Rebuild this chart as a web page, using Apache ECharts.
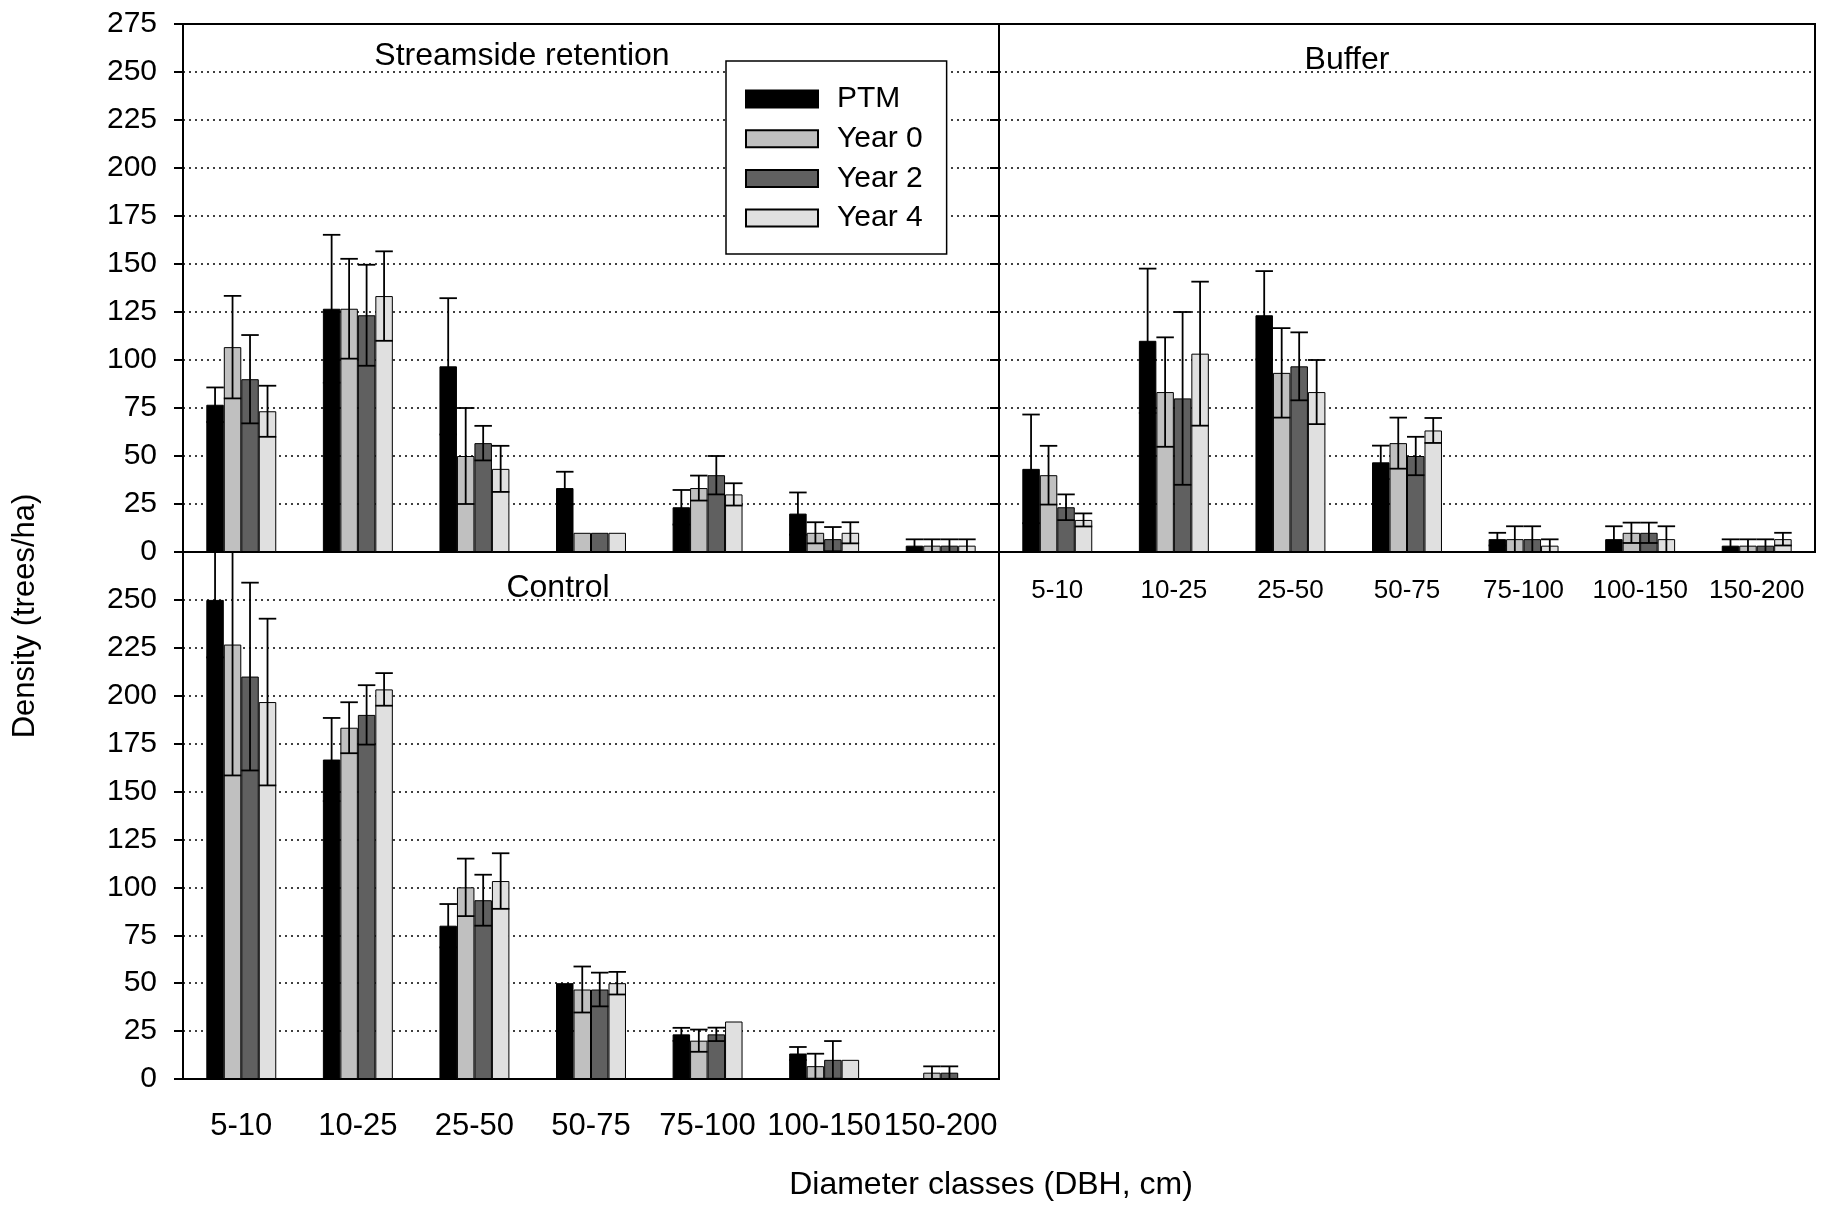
<!DOCTYPE html>
<html lang="en">
  <head>
    <meta charset="UTF-8" />
    <title>Tree density by diameter class</title>
    <script src="https://cdn.jsdelivr.net/npm/echarts@6/dist/echarts.min.js"></script>
    <style>
      html, body { margin: 0; padding: 0; background: #fff; }
    </style>
  </head>
  <body>
    <div id="main" style="width: 1821px; height: 1206px"></div>
    <script type="text/javascript">
      // diameter classes (DBH, cm)
      const categories = ['5-10', '10-25', '25-50', '50-75', '75-100', '100-150', '150-200'];
      const seriesNames = ['PTM', 'Year 0', 'Year 2', 'Year 4'];
      const seriesColors = ['#000000', '#c0c0c0', '#606060', '#e0e0e0'];

      // mean density (trees/ha), rows in seriesNames order
      const streamsideMeans = [
        [76.7, 126.7, 96.7, 33.3, 23.3, 20, 3.3],
        [106.7, 126.7, 50, 10, 33.3, 10, 3.3],
        [90, 123.3, 56.7, 10, 40, 6.7, 3.3],
        [73.3, 133.3, 43.3, 10, 30, 10, 3.3]
      ];
      const bufferMeans = [
        [43.3, 110, 123.3, 46.7, 6.7, 6.7, 3.3],
        [40, 83.3, 93.3, 56.7, 6.7, 10, 3.3],
        [23.3, 80, 96.7, 50, 6.7, 10, 3.3],
        [16.7, 103.3, 83.3, 63.3, 3.3, 6.7, 6.7]
      ];
      const controlMeans = [
        [250, 166.7, 80, 50, 23.3, 13.3, 0],
        [226.7, 183.3, 100, 46.7, 20, 6.7, 3.3],
        [210, 190, 93.3, 46.7, 23.3, 10, 3.3],
        [196.7, 203.3, 103.3, 50, 30, 10, 0]
      ];

      // standard errors, null = no error bar drawn
      const streamsideErr = [
        [9, 38.5, 35.5, 8.5, 9, 11, 3.3],
        [26.7, 26, 25, null, 6.5, 5.5, 3.3],
        [23, 26.3, 9, null, 10, 6.3, 3.3],
        [13.3, 23.3, 12, null, 5.8, 5.5, 3.3]
      ];
      const bufferErr = [
        [28.3, 37.6, 23, 8.7, 3.3, 6.7, 3.3],
        [15.3, 28.5, 23.3, 13.3, 6.7, 5.3, 3.3],
        [6.7, 45, 17.7, 10, 6.7, 5.3, 3.3],
        [3.4, 37.5, 16.7, 6.5, 3.3, 6.7, 3.3]
      ];
      const controlErr = [
        [30, 21.7, 11.3, null, 3.4, 3.4, null],
        [68.3, 13.3, 15, 12, 5.8, 6.5, 3.3],
        [49, 15.5, 13.3, 8.8, 3.5, 9.8, 3.3],
        [43.5, 8.5, 14.5, 5.9, null, null, null]
      ];

      const FONT = '"Liberation Sans", Arial, sans-serif';
      const BAR_FRAC = 0.15;

      const panels = [
        { means: streamsideMeans, errs: streamsideErr },
        { means: bufferMeans, errs: bufferErr },
        { means: controlMeans, errs: controlErr }
      ];

      function errorBar(params, api, k) {
        const ci = api.value(0);
        const mean = api.value(1);
        const se = api.value(2);
        const bw = api.size([1, 0])[0] * BAR_FRAC;
        const x = api.coord([ci, mean])[0] + (k - 1.5) * bw;
        const rect = params.coordSys;
        let top = api.coord([ci, mean + se])[1];
        const bottom = api.coord([ci, Math.max(mean - se, 0)])[1];
        const clipped = top < rect.y;
        if (clipped) top = rect.y;
        const style = { stroke: '#000', lineWidth: 1.8 };
        const children = [
          { type: 'line', shape: { x1: x, y1: top, x2: x, y2: bottom }, style: style }
        ];
        if (!clipped) {
          children.push({ type: 'line', shape: { x1: x - bw / 2, y1: top, x2: x + bw / 2, y2: top }, style: style });
        }
        children.push({ type: 'line', shape: { x1: x - bw / 2, y1: bottom, x2: x + bw / 2, y2: bottom }, style: style });
        return { type: 'group', children: children };
      }

      const series = [];
      panels.forEach((p, gi) => {
        seriesNames.forEach((name, k) => {
          series.push({
            name: name,
            type: 'bar',
            xAxisIndex: gi,
            yAxisIndex: gi,
            data: p.means[k],
            barWidth: '15%',
            barGap: '0%',
            itemStyle: { color: seriesColors[k], borderColor: '#000', borderWidth: 1 }
          });
        });
        seriesNames.forEach((name, k) => {
          series.push({
            type: 'custom',
            xAxisIndex: gi,
            yAxisIndex: gi,
            z: 5,
            data: p.means[k].map((v, i) => [i, v, p.errs[k][i]]).filter(d => d[2] != null),
            renderItem: (params, api) => errorBar(params, api, k)
          });
        });
      });

      const grids = [
        { left: 183, top: 24, width: 816, height: 528 },
        { left: 999, top: 24, width: 816, height: 528 },
        { left: 183, top: 552, width: 816, height: 527 }
      ].map(g => Object.assign(g, { show: true, borderColor: '#000', borderWidth: 2, backgroundColor: 'transparent' }));

      const xAxes = [0, 1, 2].map(gi => ({
        type: 'category',
        gridIndex: gi,
        data: categories,
        axisLine: { lineStyle: { color: '#000', width: 2 } },
        axisTick: { alignWithLabel: true, length: 9, lineStyle: { color: '#000', width: 1.5 } },
        axisLabel: {
          show: gi !== 0,
          interval: 0,
          color: '#000',
          fontFamily: FONT,
          fontSize: gi === 1 ? 26 : 31,
          margin: gi === 1 ? 26 : 32
        },
        splitLine: { show: false }
      }));

      const yAxes = [0, 1, 2].map(gi => ({
        type: 'value',
        gridIndex: gi,
        min: 0,
        max: 275,
        interval: 25,
        axisLine: { show: true, lineStyle: { color: '#000', width: 2 } },
        axisTick: { show: true, length: 9, lineStyle: { color: '#000', width: 2 } },
        axisLabel: {
          show: gi !== 1,
          color: '#000',
          fontFamily: FONT,
          fontSize: 30,
          margin: 26,
          formatter: v => (gi === 2 && v === 275 ? '' : String(v))
        },
        splitLine: { show: true, lineStyle: { color: '#000', width: 1.5, type: [2, 4] } }
      }));

      const myChart = echarts.init(document.getElementById('main'));
      myChart.setOption({
        animation: false,
        backgroundColor: '#fff',
        textStyle: { fontFamily: FONT },
        grid: grids,
        xAxis: xAxes,
        yAxis: yAxes,
        legend: {
          data: seriesNames,
          orient: 'vertical',
          left: 726,
          top: 61,
          icon: 'rect',
          itemWidth: 72,
          itemHeight: 17,
          itemGap: 9.7,
          padding: [23, 24, 21, 19],
          backgroundColor: '#fff',
          borderColor: '#000',
          borderWidth: 1.5,
          selectedMode: false,
          textStyle: { fontSize: 30, lineHeight: 30, color: '#000', fontFamily: FONT, padding: [0, 0, 0, 14] }
        },
        graphic: [
          { type: 'text', x: 522, y: 56.5, style: { text: 'Streamside retention', fontSize: 32, fontFamily: FONT, fill: '#000', align: 'center', verticalAlign: 'middle' } },
          { type: 'text', x: 1347, y: 60.5, style: { text: 'Buffer', fontSize: 32, fontFamily: FONT, fill: '#000', align: 'center', verticalAlign: 'middle' } },
          { type: 'text', x: 558, y: 588.5, style: { text: 'Control', fontSize: 32, fontFamily: FONT, fill: '#000', align: 'center', verticalAlign: 'middle' } },
          { type: 'text', x: 991, y: 1185, style: { text: 'Diameter classes (DBH, cm)', fontSize: 32, fontFamily: FONT, fill: '#000', align: 'center', verticalAlign: 'middle' } },
          { type: 'text', x: 25, y: 616, rotation: Math.PI / 2, style: { text: 'Density (trees/ha)', fontSize: 31, fontFamily: FONT, fill: '#000', align: 'center', verticalAlign: 'middle' } }
        ],
        series: series
      });
    </script>
  </body>
</html>
